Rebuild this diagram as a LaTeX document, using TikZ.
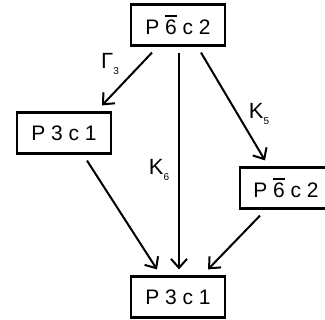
\documentclass[tikz,border=0pt]{standalone}
\usepackage{fontspec}
\setmainfont{Liberation Sans}
\usetikzlibrary{arrows.meta,calc}
\newcommand{\barsix}{\setbox0\hbox{6}\rlap{\raisebox{0.86em}{\rule{\wd0}{1.4pt}}}6}
\newcommand{\subx}[1]{\raisebox{-0.3em}{\fontsize{10}{10}\selectfont #1}}
\tikzset{
  grp/.style={draw, line width=2.2pt, minimum width=94pt, minimum height=41pt, inner sep=0pt, font=\fontsize{21}{21}\selectfont},
  conn/.style={line width=2pt, -{Straight Barb[length=9pt,width=16pt,line width=2pt]}},
  lbl/.style={font=\fontsize{22}{22}\selectfont, inner sep=0pt}
}
\begin{document}
\begin{tikzpicture}[x=1pt,y=-1pt]
\useasboundingbox (0,0) rectangle (325,320);
\node[grp] (top) at (178,25) {P \barsix\ c 2};
\node[grp] (left) at (64,133) {P 3 c 1};
\node[grp, minimum width=92pt] (right) at (286,188) {P \barsix\ c 2};
\node[grp] (bot) at (178,297) {P 3 c 1};
\coordinate (t1) at ($(top.south)+(-26,6)$);
\coordinate (t2) at ($(top.south)+(1,6)$);
\coordinate (t3) at ($(top.south)+(23,6)$);
\coordinate (l1) at ($(left.north)+(38,-6)$);
\coordinate (r1) at ($(right.north)+(-21,-6)$);
\coordinate (l2) at ($(left.south)+(23,6)$);
\coordinate (r2) at ($(right.south)+(-26,6)$);
\coordinate (b1) at ($(bot.north)+(-21,-6)$);
\coordinate (b2) at ($(bot.north)+(1,-6)$);
\coordinate (b3) at ($(bot.north)+(30,-6)$);
\draw[conn] (t1) -- (l1);
\draw[conn] (t2) -- (b2);
\draw[conn] (t3) -- (r1);
\draw[conn] (l2) -- (b1);
\draw[conn] (r2) -- (b3);
\node[lbl] (g3) at (110,64) {Γ\subx{3}};
\node[lbl] (k5) at (259,114) {K\subx{5}};
\node[lbl] (k6) at (159,170) {K\subx{6}};
\end{tikzpicture}
\end{document}
